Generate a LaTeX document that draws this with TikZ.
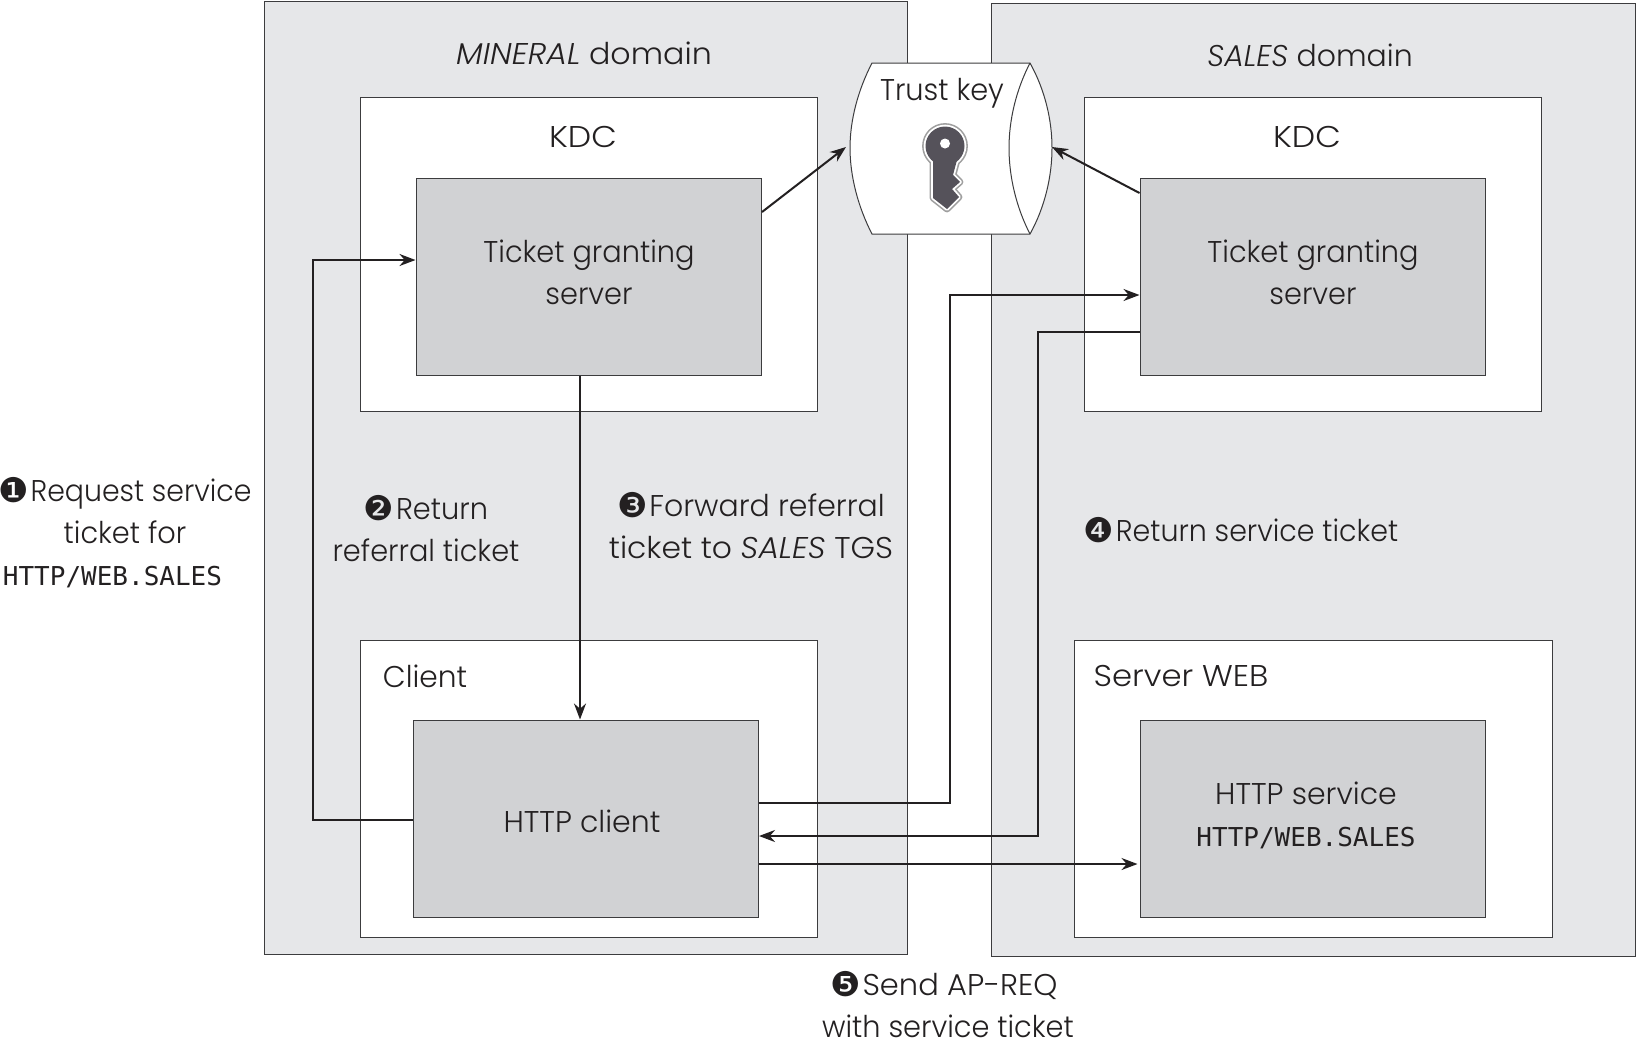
\documentclass[tikz,border=0pt]{standalone}
\usepackage{graphicx}
\usepackage{fontspec}
\setmainfont{Poppins Light}[ItalicFont={Poppins Light Italic},FakeStretch=0.96]
\newfontfamily\monof{DejaVu Sans Mono}
\newfontfamily\numf{DejaVu Sans}
\usetikzlibrary{fit,arrows.meta,calc}
\definecolor{domainc}{HTML}{E6E7E9}
\definecolor{greyc}{HTML}{D1D2D4}
\definecolor{linec}{HTML}{3C3C3E}
\definecolor{textc}{HTML}{232021}
\definecolor{keyc}{HTML}{55525A}
\newcommand{\pxbox}[6]{%
  \coordinate (#1-a) at (#2,#3);\coordinate (#1-b) at (#4,#5);
  \node[fit=(#1-a)(#1-b),inner sep=0pt,#6] (#1) {};}
\newcommand{\cn}[1]{{\numf\fontsize{17}{21}\selectfont\raisebox{-0.5pt}{#1}}\kern0.8pt}
\newcommand{\mn}[1]{{\monof\fontsize{13}{21}\selectfont #1}}
\newcommand{\wid}[2]{\scalebox{#1}[1]{#2}}
\tikzset{
  domainbox/.style={draw=linec,line width=0.5pt,fill=domainc},
  whitebox/.style={draw=linec,line width=0.5pt,fill=white},
  greybox/.style={draw=linec,line width=0.5pt,fill=greyc},
  txt/.style={text=textc,inner sep=0pt,align=center,font=\fontsize{15}{21}\selectfont},
  arr/.style={draw=textc,line width=1pt,-{Stealth[length=8pt,width=6pt]}},
}
\begin{document}
\begin{tikzpicture}[x=0.5pt,y=-0.5pt]
\useasboundingbox (0,0) rectangle (1636,1040);
\fill[white] (0,0) rectangle (1636,1040);
\pxbox{mineral}{264}{1}{907}{954.5}{domainbox}
\pxbox{sales}{991}{3}{1635.5}{956.5}{domainbox}
\pxbox{kdcL}{360}{97.5}{817.5}{411.5}{whitebox}
\pxbox{kdcR}{1084}{97.5}{1541.5}{411.5}{whitebox}
\pxbox{tgsL}{416}{178}{761.5}{375}{greybox}
\pxbox{tgsR}{1140}{178}{1485.5}{375}{greybox}
\pxbox{client}{360}{640}{817.5}{937}{whitebox}
\pxbox{web}{1074}{640}{1552.5}{937}{whitebox}
\pxbox{httpc}{413}{720}{758.5}{917}{greybox}
\pxbox{https}{1140}{720}{1485.5}{917}{greybox}
% trust key cylinder
\path[draw=linec,line width=0.5pt,fill=white] (872,63) -- (1030,63)
  .. controls (1045,90) and (1052,120) .. (1052,148)
  .. controls (1052,176) and (1045,207) .. (1030,234)
  -- (872,234)
  .. controls (858,207) and (850,176) .. (850,148)
  .. controls (850,120) and (858,90) .. (872,63) -- cycle;
\draw[linec,line width=0.5pt] (1030,63)
  .. controls (1016,90) and (1009,120) .. (1009,148)
  .. controls (1009,176) and (1016,207) .. (1030,234);
\coordinate (keyL) at (846,147);
\coordinate (keyR) at (1052,147);
% key icon: outer grey rim, white rim, dark body
\def\keyhead{(945,146) circle (19.5)}
\def\keyblade{(933,160) -- (933,198) -- (947,209) -- (959,197) -- (952,189) -- (960,182) -- (953,175) -- (957,160) -- cycle}
\path[draw=gray!75,line width=3.4pt,line join=round] \keyhead;
\path[draw=gray!75,line width=3.4pt,line join=round] \keyblade;
\path[draw=white,fill=white,line width=1.8pt,line join=round] \keyhead;
\path[draw=white,fill=white,line width=1.8pt,line join=round] \keyblade;
\path[fill=keyc] \keyhead;
\path[fill=keyc] \keyblade;
\fill[white] (945,143.5) circle (5);
% labels
\node[txt] (tMineral) at (584,53) {\wid{1.10}{\textit{MINERAL} domain}};
\node[txt] (tSales) at (1310,55) {\wid{1.04}{\textit{SALES} domain}};
\node[txt] (tKdcL) at (583,137) {\wid{1.15}{KDC}};
\node[txt] (tKdcR) at (1307,137) {\wid{1.15}{KDC}};
\node[txt] (tKey) at (942,93) {Trust key};
\node[txt] (tTgsL) at (589,272) {Ticket granting\\server};
\node[txt] (tTgsR) at (1313,272) {Ticket granting\\server};
\node[txt] (tClient) at (425,676) {\wid{1.03}{Client}};
\node[txt] (tWeb) at (1181,676) {\wid{1.12}{Server WEB}};
\node[txt] (tHttpc) at (582,821) {\wid{1.04}{HTTP client}};
\node[txt] (tHttps) at (1306,815) {\wid{1.04}{HTTP service}\\\mn{HTTP/WEB.SALES}};
\node[txt] (step1) at (125,533) {\cn{❶}\wid{0.985}{Request service}\\ticket for\\\hspace*{-12.5pt}\mn{HTTP/WEB.SALES}};
\node[txt] (step2) at (426,529) {\cn{❷}Return\\referral ticket};
\node[txt] (step3) at (751,526) {\cn{❸}\wid{1.04}{Forward referral}\\\wid{1.09}{ticket to \textit{SALES} TGS}};
\node[txt] (step4) at (1241,530) {\cn{❹}\wid{0.99}{Return service ticket}};
\node[txt] (step5) at (948,1005) {\hspace*{-4pt}\cn{❺}\wid{1.06}{Send AP-REQ}\\with service ticket};
% connectors
\draw[arr] (tgsL.east |- 0,212) -- (keyL);
\draw[arr] (tgsR.west |- 0,193) -- (keyR);
\draw[arr] (httpc.west |- 0,820) -- (313,820) -- (313,260) -- (tgsL.west |- 0,260);
\draw[arr] (tgsL.south -| 580,0) -- (httpc.north -| 580,0);
\draw[arr] (httpc.east |- 0,803) -- (950,803) -- (950,295) -- (tgsR.west |- 0,295);
\draw[arr] (tgsR.west |- 0,332) -- (1038,332) -- (1038,836) -- (httpc.east |- 0,836);
\draw[arr] (httpc.east |- 0,864) -- ($(https.west |- 0,864)+(-2,0)$);
\end{tikzpicture}
\end{document}
